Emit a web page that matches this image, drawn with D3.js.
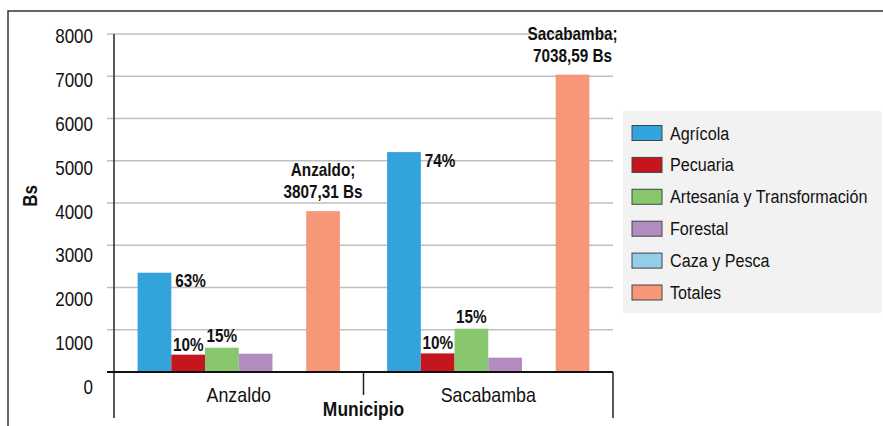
<!DOCTYPE html>
<html>
<head>
<meta charset="utf-8">
<script src="https://cdn.jsdelivr.net/npm/d3@7"></script>
<style>
body { margin: 0; background: #fff; }
svg { display: block; font-family: "Liberation Sans", Arial, sans-serif; }
</style>
</head>
<body>
<svg width="883" height="426"></svg>
<script>
// data
var municipios = ["Anzaldo", "Sacabamba"];
var series = ["Agrícola", "Pecuaria", "Artesanía y Transformación", "Forestal", "Caza y Pesca", "Totales"];
var colors = ["#33a3dc", "#c5161d", "#89c76e", "#b28bc0", "#93cde8", "#f7977a"];
var anzaldo = [2350, 410, 575, 433, 0, 3807.31];
var sacabamba = [5205, 440, 1025, 340, 0, 7038.59];
var pctAgricola = ["63%", "74%"];
var pctPecuaria = ["10%", "10%"];
var pctArtesania = ["15%", "15%"];
var totalText = ["3807,31 Bs", "7038,59 Bs"];
var yTicks = [0, 1000, 2000, 3000, 4000, 5000, 6000, 7000, 8000];

var values = [anzaldo, sacabamba];
var data = [];
municipios.forEach(function (m, i) {
	series.forEach(function (s, j) {
		data.push({ mun: m, mi: i, serie: s, si: j, value: values[i][j] });
	});
});

var svg = d3.select("svg");
var pLeft = 114, pRight = 613, pTop = 34, pBottom = 372;
// the original uses a narrow face, so text is squeezed horizontally
var squeeze = 0.85;

function txt(parent, x, y, str, size, anchor, bold) {
	return parent.append("text")
		.attr("transform", "translate(" + x + "," + y + ") scale(" + squeeze + ",1)")
		.attr("text-anchor", anchor || "start")
		.attr("font-size", size)
		.attr("font-weight", bold ? "bold" : null)
		.attr("fill", "#111")
		.text(str);
}

// outer border
svg.append("rect")
	.attr("x", 8).attr("y", 11)
	.attr("width", 900).attr("height", 440)
	.attr("fill", "none").attr("stroke", "#333").attr("stroke-width", 1.5);

var x0 = d3.scaleBand().domain(municipios).range([pLeft, pRight]);
var x1 = d3.scaleBand().domain(series).range([0, x0.bandwidth()]).paddingOuter(0.7);
var y = d3.scaleLinear().domain([0, 8000]).range([pBottom, pTop]);
// tick labels in the picture sit on a slightly longer spacing
var yLab = d3.scaleLinear().domain([0, 8000]).range([387, 36]);

// grid
svg.append("g").selectAll("line")
	.data(yTicks.filter(function (d) { return d > 0; }))
	.enter().append("line")
	.attr("x1", pLeft - 7).attr("x2", pRight)
	.attr("y1", function (d) { return y(d); })
	.attr("y2", function (d) { return y(d); })
	.attr("stroke", "#bfbfbf").attr("stroke-width", 1.5);

// y tick labels
var gy = svg.append("g");
yTicks.forEach(function (d) {
	txt(gy, 93, yLab(d) + 7, d, 20, "end");
});

// bars
svg.append("g").selectAll("rect")
	.data(data)
	.enter().append("rect")
	.attr("x", function (d) { return x0(d.mun) + x1(d.serie); })
	.attr("y", function (d) { return y(d.value); })
	.attr("width", x1.bandwidth())
	.attr("height", function (d) { return y(0) - y(d.value); })
	.attr("fill", function (d) { return colors[d.si]; });

// axes lines
svg.append("line")
	.attr("x1", pLeft).attr("x2", pLeft).attr("y1", pTop).attr("y2", 418)
	.attr("stroke", "#222").attr("stroke-width", 1.5);
svg.append("line")
	.attr("x1", pLeft - 7).attr("x2", pRight).attr("y1", pBottom).attr("y2", pBottom)
	.attr("stroke", "#111").attr("stroke-width", 2);
svg.append("line")
	.attr("x1", pRight).attr("x2", pRight).attr("y1", pBottom).attr("y2", 418)
	.attr("stroke", "#222").attr("stroke-width", 1.5);
svg.append("line")
	.attr("x1", x0("Sacabamba")).attr("x2", x0("Sacabamba")).attr("y1", pBottom).attr("y2", 395)
	.attr("stroke", "#222").attr("stroke-width", 1.5);

// category labels
var gx = svg.append("g");
municipios.forEach(function (m) {
	txt(gx, x0(m) + x0.bandwidth() / 2, 402, m, 21, "middle");
});

// axis titles
txt(svg, (pLeft + pRight) / 2, 416, "Municipio", 20.5, "middle", true);
svg.append("text")
	.attr("transform", "translate(37,196) rotate(-90) scale(" + squeeze + ",1)")
	.attr("text-anchor", "middle")
	.attr("font-size", 20).attr("font-weight", "bold")
	.attr("fill", "#111")
	.text("Bs");

// data labels
var lab = svg.append("g");
municipios.forEach(function (m, i) {
	var bx = function (s) { return x0(m) + x1(s); };
	var w = x1.bandwidth();
	txt(lab, bx(series[0]) + w + 4, y(values[i][0]) + 14.5, pctAgricola[i], 18, "start", true);
	txt(lab, bx(series[1]) + w / 2, y(values[i][1]) - 4, pctPecuaria[i], 18, "middle", true);
	txt(lab, bx(series[2]) + w / 2, y(values[i][2]) - 6, pctArtesania[i], 18, "middle", true);
	txt(lab, bx(series[5]) + w / 2, y(values[i][5]) - 35, m + ";", 18, "middle", true);
	txt(lab, bx(series[5]) + w / 2, y(values[i][5]) - 13, totalText[i], 18, "middle", true);
});

// legend
var lg = svg.append("g");
lg.append("rect")
	.attr("x", 623).attr("y", 111).attr("width", 259).attr("height", 202)
	.attr("fill", "#f2f2f2");
series.forEach(function (s, i) {
	var cy = 133 + i * 31.9;
	lg.append("rect")
		.attr("x", 632).attr("y", cy - 7.5).attr("width", 30).attr("height", 15)
		.attr("fill", colors[i])
		.attr("stroke", "#444").attr("stroke-width", 1);
	txt(lg, 670, cy + 6.5, s, 19, "start");
});
</script>
</body>
</html>
